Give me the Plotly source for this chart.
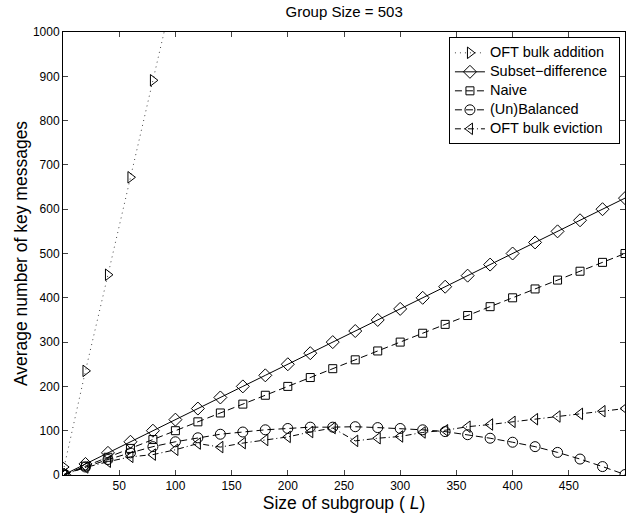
import plotly.graph_objects as go

L = [1, 20, 40, 60, 80, 100, 120, 140, 160, 180, 200, 220, 240, 260, 280, 300,
     320, 340, 360, 380, 400, 420, 440, 460, 480, 500]

L_addition = [1, 20, 40, 60, 80, 100]
oft_addition = [18, 235, 452, 672, 891, 1110]

subset_difference = [1, 25, 50, 75, 100, 125, 150, 175, 200, 225, 250, 275, 300,
                     325, 350, 375, 400, 425, 450, 475, 500, 525, 550, 575, 600, 625]
naive = [1, 20, 40, 60, 80, 100, 120, 140, 160, 180, 200, 220, 240, 260, 280, 300,
         320, 340, 360, 380, 400, 420, 440, 460, 480, 500]
unbalanced = [1, 18, 35, 50, 64, 75, 84, 92, 97, 102, 105, 108, 108, 109, 107, 105,
              102, 98, 91, 83, 74, 64, 51, 36, 19, 1]
oft_eviction = [1, 17, 30, 41, 46, 57, 71, 63, 72, 79, 86, 97, 106, 77, 83, 87,
                96, 101, 109, 114, 120, 126, 132, 138, 144, 150]

series_names = ["OFT bulk addition", "Subset\u2212difference", "Naive",
                "(Un)Balanced", "OFT bulk eviction"]

x_ticks = [50, 100, 150, 200, 250, 300, 350, 400, 450, 500]
y_ticks = [0, 100, 200, 300, 400, 500, 600, 700, 800, 900, 1000]

FONT = "Liberation Sans, Arial, Helvetica, sans-serif"


def leg(name):
    return '<span style="font-size:14.5px">' + name + '</span>'


fig = go.Figure()
fig.add_trace(go.Scatter(
    x=L_addition, y=oft_addition, name=leg(series_names[0]), mode="lines+markers",
    line=dict(color="#444444", width=1, dash="1px,4px"),
    marker=dict(symbol="triangle-right-open", size=10, color="black", line=dict(width=1))))
fig.add_trace(go.Scatter(
    x=L, y=subset_difference, name=leg(series_names[1]) + "&nbsp;&nbsp;", mode="lines+markers",
    line=dict(color="black", width=1),
    marker=dict(symbol="diamond-open", size=10, color="black", line=dict(width=1))))
fig.add_trace(go.Scatter(
    x=L, y=naive, name=leg(series_names[2]), mode="lines+markers",
    line=dict(color="black", width=1, dash="7px,4px"),
    marker=dict(symbol="square-open", size=8, color="black", line=dict(width=1))))
fig.add_trace(go.Scatter(
    x=L, y=unbalanced, name=leg(series_names[3]), mode="lines+markers",
    line=dict(color="black", width=1, dash="7px,4px"),
    marker=dict(symbol="circle-open", size=10, color="black", line=dict(width=1))))
fig.add_trace(go.Scatter(
    x=L, y=oft_eviction, name=leg(series_names[4]), mode="lines+markers",
    line=dict(color="black", width=1, dash="6px,3px,1px,3px"),
    marker=dict(symbol="triangle-left-open", size=10, color="black", line=dict(width=1))))

fig.update_layout(
    width=631, height=519,
    margin=dict(l=63, r=6, t=32, b=44),
    paper_bgcolor="white", plot_bgcolor="white",
    font=dict(family=FONT, size=12, color="black"),
    title=dict(text="Group Size = 503", x=0.5455, xanchor="center", y=0.977, yanchor="middle",
               font=dict(size=15)),
    showlegend=True,
    legend=dict(x=0.991, xanchor="right", y=0.988, yanchor="top",
                bgcolor="white", bordercolor="black", borderwidth=1,
                font=dict(size=11), itemwidth=30, tracegroupgap=0),
    xaxis=dict(range=[0, 500], tickvals=x_ticks, ticks="inside", ticklen=5,
               showline=True, linecolor="black", linewidth=1, mirror="ticks",
               showgrid=False, zeroline=False, tickfont=dict(size=12),
               title=dict(text="Size of subgroup ( <i>L</i>)", font=dict(size=17.5), standoff=2)),
    yaxis=dict(range=[0, 1000], tickvals=y_ticks, ticks="inside", ticklen=5,
               showline=True, linecolor="black", linewidth=1, mirror="ticks",
               showgrid=False, zeroline=False, tickfont=dict(size=12),
               title=dict(text="Average number of key messages", font=dict(size=17.5), standoff=0)),
)

fig.write_html(
    "out.html", config={"displayModeBar": False},
    post_script="document.body.style.margin='0px';")
